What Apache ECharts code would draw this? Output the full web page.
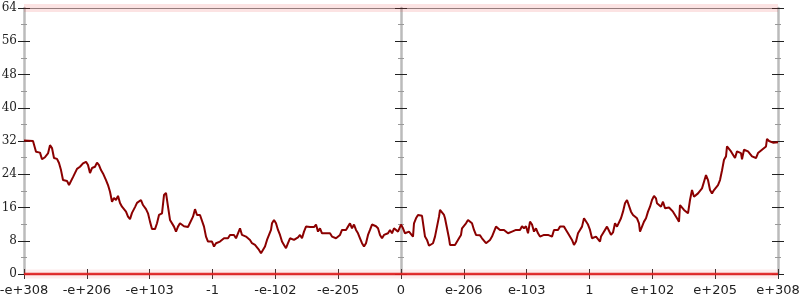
<!DOCTYPE html>
<html><head><meta charset="utf-8">
<script src="https://cdn.jsdelivr.net/npm/echarts@6/dist/echarts.min.js"></script>
<style>html,body{margin:0;padding:0;background:#fff}#c{width:800px;height:300px}</style>
</head><body><div id="c"></div>
<script>
// x tick labels (13 equally spaced ticks)
const tickLabels = ['-e+308','-e+206','-e+103','-1','-e-102','-e-205','0','e-206','e-103','1','e+102','e+205','e+308'];
// bin index (0 .. 377) of each sample
const bins = [0,4.5,6,7,8,9,10.5,12,13,14,15,16.5,17.5,18.5,19.5,20.5,21.5,22.5,23.5,24.5,25.5,26.5,28,29.5,31,32,33,34,35.5,36.5,37.5,38.5,39.5,41,42,43,44,45,46,47,48,49,50,51,52,53,54,55.5,56.5,57.5,58.5,59.5,61,62,63,64,65.5,66.5,67.5,69,70,71,72,73,74,75,76,77,78,79,80,81,82,83,84.5,85.5,86.5,87.5,
88,89,90,91,92,93,94,95,96,97,98,99,100,101,102,103,104,105,106,107,108,109,110,111,112,113,114,115.5,116.5,117.5,118.5,119.5,120.5,121.5,122.5,123.5,124,125,126,127,128,129,130,131,132,133,134,135,136,137,138,139,140,141,142,143,144,145,146,147,148,149,150,151,152,153,154,155,156,157,158,159,160,161,162,163,164,165,166,167,168,169,170,171,172,173,174,175,176,177,178,179,180,181,182,183,184,185,186,187,
188,188.5,189.5,190.5,191.5,192.5,193.5,194.5,195,196,197,198,199,200,200.5,201.5,202.5,203.5,204.5,205.5,206.5,207.5,208,209,210,210.5,211.5,212.5,213,214,215.5,216.5,217.5,218.5,219,220,221,222,223,224,225,226,227,228,229,230,231,232,233,234,235,236,237,238,239,240,241,242,243,244,245,246,247,248,249,250,251,252,253,254,255,256,257,258,259,260,261,262,263,264,265,266,267,268,269,270,271,272,273,274,275,276,277,278,279,280,281,282,283,284,285,286,287,
288,288.5,289.5,290.5,291.5,292.5,293.5,294.5,295.5,296.5,297.5,298.5,299.5,300.5,301.5,302.5,303.5,304.5,305.5,306.5,307.5,308,309,310,311,312,313,314,315,316,316.5,317.5,318.5,319.5,320.5,321.5,322.5,323.5,324.5,325.5,326.5,327.5,328,329,330,331,332,333,334,335,336,337,338,339,340,341,342,343,344,345,346,347,348,349,350,351,351.5,352.5,353.5,354.5,355.5,356.5,357.5,358.5,359,360,361,362,363,364,365,366,367,368,369,370,371,371.5,372.5,373.5,374.5,377];
// counts per bin
const counts = [32.1,32,29.4,29,29.2,27.6,28.1,29,31,30.3,27.9,27.7,26.7,25,22.6,22.8,22.4,21.4,21.4,23.3,23,25.3,25.8,26.6,27,26.2,24.3,25.5,25.8,26.8,26.2,25,24.2,22.6,21.4,19.8,17.4,18.3,17.8,18.8,17.1,16.2,15.9,15,13.8,13.2,14.7,16.1,17.1,17.2,17.8,16.6,15.6,14.6,12.6,10.8,10.8,12.2,14.2,14.6,19,19.5,16.2,13,12.6,11.4,10.2,11.4,12.2,12.6,11.5,11.3,11.3,11.3,13.8,15.6,14.2,13.8,
14.2,14.2,11.4,9,7.8,7.8,7.8,6.6,7.4,7,7.8,7.7,8.6,8.2,8.6,9.4,9.3,9.4,8.6,9.8,11,9.4,9.4,9,9.4,8.2,7.4,7,6.6,5.8,5,5.2,6.6,8.2,9.4,10.6,12.2,13,12.2,10.6,9.4,7.8,7,6.2,7.4,8.6,9,8.2,8.6,8.8,9.4,8.6,10.2,11.4,11,11.3,11.5,11.3,11.9,10.2,11,9.8,9.4,9.8,9.4,9.8,9,9.4,8.6,8.2,9.4,10.6,11,10.6,11.4,12.2,11,11.9,10.6,9.8,8.6,7.4,6.6,7.4,9.4,10.6,11.9,11.9,11.5,11,9.4,8.6,9.4,9.4,9.8,10.6,9.8,11,11.4,10.2,
10.2,11.9,11,9.8,9.6,10.2,10.6,9,12.2,13.4,14.2,14,14,13.8,9,8.2,6.8,6.6,7.4,9,11.4,13.8,15.4,14.8,14.2,13.4,11,8.6,7,7,7,7.4,8.6,9.4,11,11,12.2,13,13.4,12.2,10.6,9.4,9.4,9.3,8.6,8.2,7.4,7,8.2,9,10.2,11.4,11,10.6,11,10.6,10.2,9.8,10.2,10.2,10.6,10.6,11,10.6,11.5,11,11.5,9.8,12.6,11.9,10.2,11,9.8,9,8.6,9.4,9.8,9.4,9.4,9,10.6,11,10.6,11.4,11.5,11.4,10.6,9.8,9.4,8.2,7,7.8,9.8,10.6,11.4,13.4,13,11.9,10.6,8.6,8.6,9,8.6,
7.8,9,9.8,10,11.4,10.4,9.4,10,12.2,11.4,11.8,13.4,15,17,17.8,17.4,15,14.2,13.8,13.4,12.2,10.2,10.2,12.6,13.4,15,16.2,17.8,18.8,18.2,17,17.4,16.2,17.4,15.8,15.8,16,15.8,15,14.2,13.4,12.6,16.6,16.2,15.4,15,14.6,17.8,20.2,18.6,18.2,19.4,19,20.6,22.2,23.8,22.6,20.2,19.4,20.2,20.6,21.4,22.6,24.9,27.5,28.3,30.7,30.3,29.5,29.5,27.9,29.5,29.9,29.1,27.6,29.9,29.9,29.5,29.1,28.3,28.7,27.9,29.1,29.5,29.9,30.3,30.7,32.5,32,31.6,31.6,31.7];
const totalBins = 377;
const edgeValues = [0, 64];

const binsPerTick = totalBins / 12;
const lineData = bins.map((b, i) => [(b - totalBins / 2) / binsPerTick, counts[i]]);
const edge = v => [[-6, v], [6, v]];

const chart = echarts.init(document.getElementById('c'), null, {renderer: 'canvas'});
const yBase = {type: 'value', min: 0, max: 64, interval: 8, splitLine: {show: false}, gridIndex: 0};
function yAx(pos, offset, inside, labels) {
  return Object.assign({}, yBase, {
    position: pos, offset: offset,
    axisLine: {show: !inside, onZero: false, lineStyle: {color: '#bbb', width: 2.5}},
    axisTick: {show: true, inside: inside, length: 6, lineStyle: {color: '#222', width: 1}},
    minorTick: {show: true, splitNumber: 2, length: 3, lineStyle: {color: '#999', width: 1}},
    axisLabel: labels ? {show: true, fontFamily: 'DejaVu Serif', fontSize: 12, color: '#222', margin: 7} : {show: false}
  });
}
const option = {
  animation: false,
  backgroundColor: '#fff',
  grid: {left: 24, right: 22, top: 8, bottom: 26, containLabel: false, outerBoundsMode: 'none'},
  xAxis: [
    {type: 'value', min: -6, max: 6, interval: 1, position: 'bottom', splitLine: {show: false},
     axisLine: {show: true, onZero: false, lineStyle: {color: '#999', width: 1}},
     axisTick: {show: true, length: 5, lineStyle: {color: '#333'}},
     axisLabel: {show: true, fontFamily: 'DejaVu Sans', fontSize: 13, color: '#222', margin: 10,
       formatter: v => tickLabels[Math.round(v) + 6]}},
    {type: 'value', min: -6, max: 6, interval: 1, position: 'bottom', splitLine: {show: false},
     axisLine: {show: false, onZero: false}, axisTick: {show: true, inside: true, length: 5, lineStyle: {color: '#333'}},
     axisLabel: {show: false}},
    {type: 'value', min: -6, max: 6, interval: 1, position: 'top', splitLine: {show: false},
     axisLine: {show: true, onZero: false, lineStyle: {color: '#888', width: 1}}, axisTick: {show: false}, axisLabel: {show: false}}
  ],
  yAxis: [
    yAx('left', 0, false, true), yAx('left', 0, true, false),
    yAx('left', -377, false, false), yAx('left', -377, true, false),
    yAx('right', 0, false, false), yAx('right', 0, true, false)
  ],
  series: [
    {type: 'line', data: edge(edgeValues[1]), showSymbol: false, clip: true, silent: true,
     lineStyle: {color: 'rgba(235,60,60,0.14)', width: 8}, z: 3},
    {type: 'line', data: edge(edgeValues[0]), showSymbol: false, clip: false, silent: true,
     lineStyle: {color: 'rgba(240,70,70,0.1)', width: 9}, z: 3},
    {type: 'line', data: edge(edgeValues[0]), showSymbol: false, clip: false, silent: true,
     lineStyle: {color: 'rgba(225,30,30,0.9)', width: 2.5}, z: 4},
    {type: 'line', data: lineData, showSymbol: false, clip: false,
     lineStyle: {color: '#8b0000', width: 2}, z: 5}
  ]
};
chart.setOption(option);
</script></body></html>
